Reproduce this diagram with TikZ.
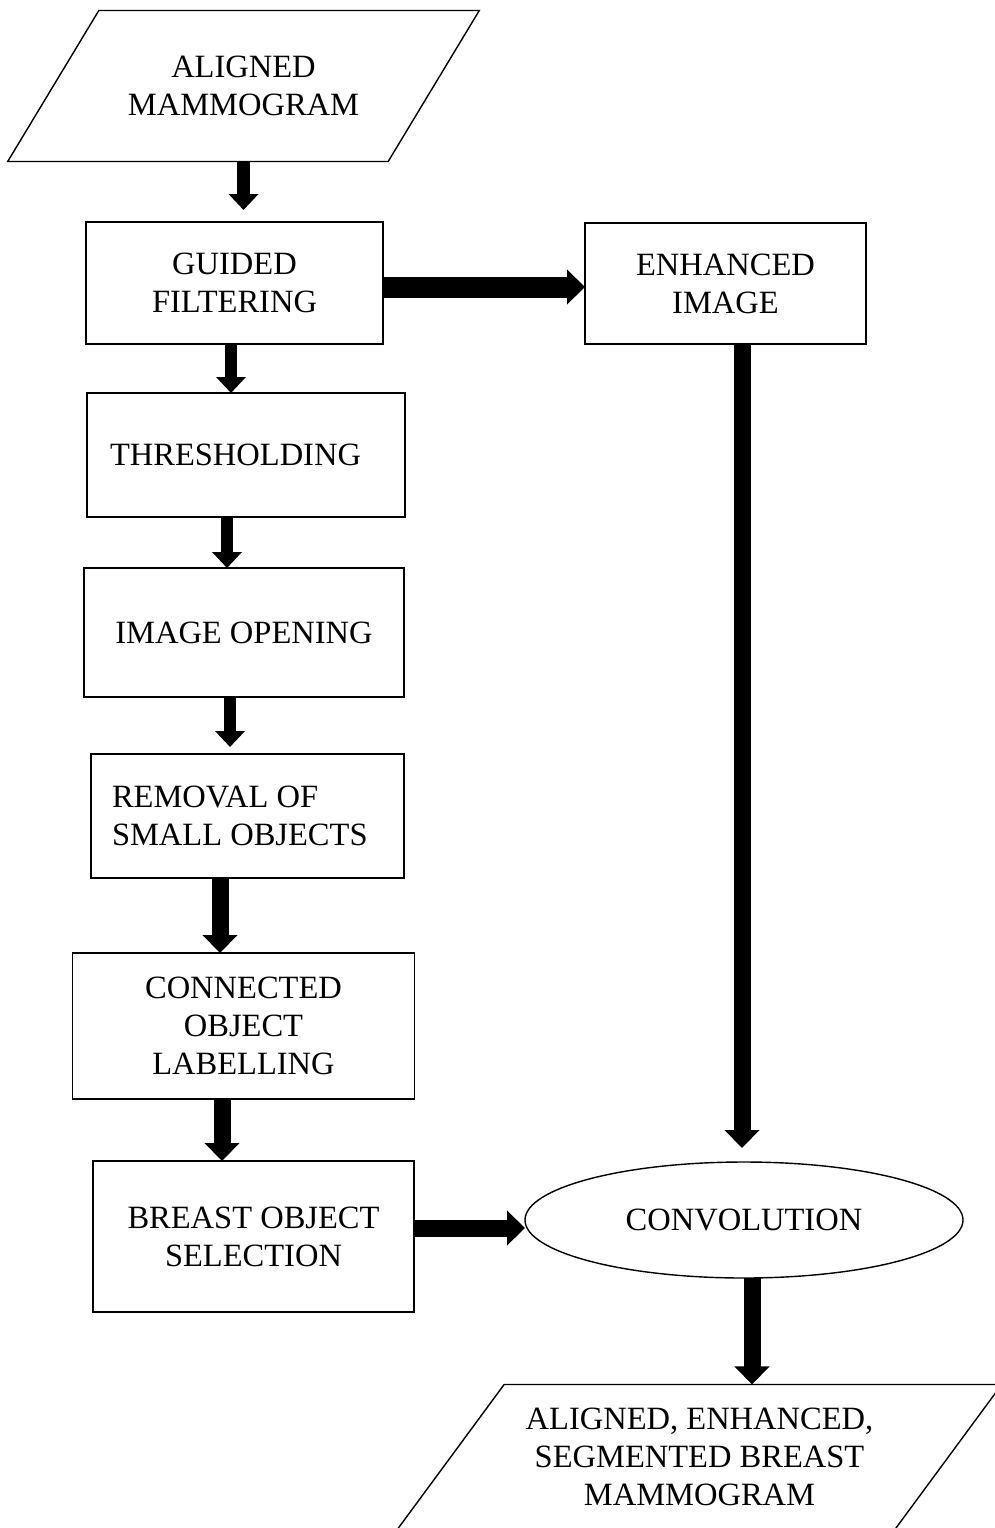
\documentclass[tikz,border=0pt]{standalone}
\usepackage{fontspec}
\setmainfont{Liberation Serif}
\usetikzlibrary{shapes.geometric}
\usetikzlibrary{arrows.meta}

\begin{document}
\begin{tikzpicture}[every node/.style={font=\fontsize{18.5}{21.5}\selectfont,align=center,line width=0.8pt,outer sep=0pt},
  procbox/.style={draw,rectangle},
  iobox/.style={draw,trapezium,trapezium left angle=#1,trapezium right angle=180-#1,trapezium stretches=true},
  flow/.style={line width=3.4mm,-{Triangle[length=3.6mm,width=6.8mm]}},
  thinflow/.style={line width=2.5mm,-{Triangle[length=3.2mm,width=5.8mm]}}]
  \useasboundingbox (0,0) rectangle (19.9,-30.56);

  \node[iobox=43,minimum width=9.46cm,minimum height=3.02cm] (in) at (4.87,-1.72) {ALIGNED\\MAMMOGRAM};
  \node[procbox,minimum width=5.94cm,minimum height=2.44cm] (guided) at (4.69,-5.66) {GUIDED\\FILTERING};
  \node[procbox,minimum width=5.62cm,minimum height=2.42cm] (enh) at (14.51,-5.67) {ENHANCED\\IMAGE};
  \node[procbox,align=flush left,text width=5.44cm,inner xsep=0.46cm,minimum height=2.48cm] (thresh) at (4.92,-9.10) {THRESHOLDING};
  \node[procbox,minimum width=6.40cm,minimum height=2.58cm] (open) at (4.88,-12.65) {IMAGE OPENING};
  \node[procbox,align=flush left,text width=5.42cm,inner xsep=0.42cm,minimum height=2.48cm] (removal) at (4.95,-16.32) {REMOVAL OF\\SMALL OBJECTS};
  \node[procbox,minimum width=6.84cm,minimum height=2.92cm] (conn) at (4.87,-20.52) {CONNECTED\\OBJECT\\LABELLING};
  \node[procbox,minimum width=6.42cm,minimum height=3.02cm] (breast) at (5.07,-24.73) {BREAST OBJECT\\SELECTION};
  \node[draw,ellipse,minimum width=8.76cm,minimum height=2.32cm] (conv) at (14.88,-24.40) {CONVOLUTION};
  \node[iobox=48,minimum width=12.1cm,minimum height=2.9cm] (out) at (13.99,-29.14) {ALIGNED, ENHANCED,\\SEGMENTED BREAST\\MAMMOGRAM};

  \draw[thinflow,shorten >=0.24cm] (in.south) -- (in.south |- guided.north);
  \draw[thinflow] ([xshift=-0.07cm]guided.south) -- ([xshift=-0.07cm]guided.south |- thresh.north);
  \draw[thinflow] ([xshift=-0.38cm]thresh.south) -- ([xshift=-0.38cm]thresh.south |- open.north);
  \draw[thinflow,shorten >=0.14cm] ([xshift=-0.28cm]open.south) -- ([xshift=-0.28cm]open.south |- removal.north);
  \draw[flow] ([xshift=-0.55cm]removal.south) -- ([xshift=-0.55cm]removal.south |- conn.north);
  \draw[flow] ([xshift=-0.43cm]conn.south) -- ([xshift=-0.43cm]conn.south |- breast.north);
  \draw[flow,line width=4.2mm] ([yshift=-0.08cm]guided.east) -- ([yshift=-0.08cm]guided.east -| enh.west);
  \draw[flow,shorten >=0.28cm] ([xshift=0.33cm]enh.south) -- ([xshift=0.33cm]enh.south |- conv.north);
  \draw[flow] ([yshift=0.17cm]breast.east) -- ([yshift=0.17cm]breast.east -| conv.west);
  \draw[flow] ([xshift=0.16cm]conv.south) -- ([xshift=0.16cm]conv.south |- out.north);
\end{tikzpicture}
\end{document}
